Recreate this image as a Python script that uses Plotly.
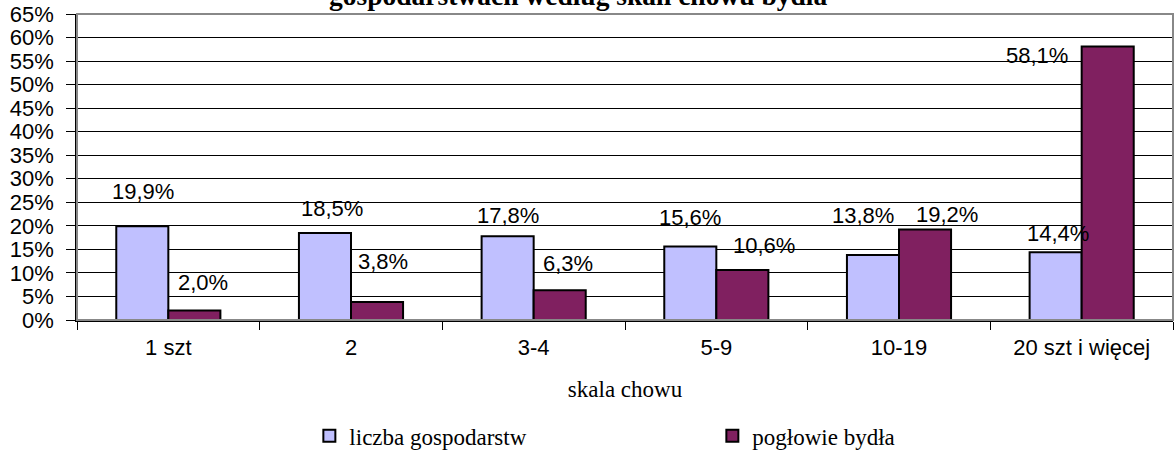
import plotly.graph_objects as go

categories = ["1 szt", "2", "3-4", "5-9", "10-19", "20 szt i więcej"]
liczba_gospodarstw = [19.9, 18.5, 17.8, 15.6, 13.8, 14.4]
poglowie_bydla = [2.0, 3.8, 6.3, 10.6, 19.2, 58.1]
series_names = ["liczba gospodarstw", "pogłowie bydła"]
y_ticks = list(range(0, 70, 5))
y_tick_labels = [f"{t}%" for t in y_ticks]

# label offsets (style, px) mimicking the Excel placement
off1 = [(1, -35), (7, -24), (0, -21), (0, -29), (-10, -40), (2, -19)]
off2 = [(9, -28), (6, -41), (8, -27), (22, -25), (22, -15), (-71, 9)]

c1 = "#C0C0FF"
c2 = "#802060"
fig = go.Figure()
fig.add_bar(x=categories, y=liczba_gospodarstw, name=series_names[0],
            marker=dict(color=c1, line=dict(color="black", width=2)), offsetgroup="a")
fig.add_bar(x=categories, y=poglowie_bydla, name=series_names[1],
            marker=dict(color=c2, line=dict(color="black", width=2)), offsetgroup="b")

def fmt(v):
    return f"{v:.1f}%".replace(".", ",")

bw = 0.285
for i, c in enumerate(categories):
    for vals, offs, sh in ((liczba_gospodarstw, off1, -bw / 2), (poglowie_bydla, off2, bw / 2)):
        fig.add_annotation(x=i + sh, y=vals[i], xref="x", yref="y", text=fmt(vals[i]),
                           showarrow=False, xanchor="center", yanchor="middle",
                           xshift=offs[i][0], yshift=-offs[i][1],
                           font=dict(family="Arial, Liberation Sans", size=22, color="black"))

fig.add_annotation(x=0.457, y=1.0, xref="paper", yref="paper", yanchor="bottom",
                   yshift=1,
                   text="<b>gospodarstwach według skali chowu bydła</b>", showarrow=False,
                   font=dict(family="Times New Roman, Liberation Serif", size=27.5, color="black"))

fig.add_shape(type="rect", xref="paper", yref="paper", x0=0, x1=1, y0=0, y1=1,
              line=dict(color="#888888", width=2), layer="above")

fig.update_layout(
    width=1176, height=454,
    margin=dict(l=77, r=3, t=14, b=134, autoexpand=False),
    paper_bgcolor="white", plot_bgcolor="white",
    barmode="group", bargap=0.43, bargroupgap=0,
    showlegend=True,
    legend=dict(orientation="h", x=0.212, xanchor="left", y=-0.308, yanchor="top",
                entrywidth=358, entrywidthmode="pixels",
                font=dict(family="Times New Roman, Liberation Serif", size=23, color="black")),
    xaxis=dict(type="category", showline=True, linecolor="black", linewidth=1.5,
               ticks="outside", ticklen=8, tickcolor="black", tickson="boundaries",
               ticklabelstandoff=7,
               tickfont=dict(family="Arial, Liberation Sans", size=22, color="black"),
               title=dict(text="skala chowu", standoff=22,
                          font=dict(family="Times New Roman, Liberation Serif", size=23, color="black"))),
    yaxis=dict(range=[0, 65], tickmode="array", tickvals=y_ticks, ticktext=y_tick_labels,
               showline=True, linecolor="black",
               linewidth=1.5, ticks="outside", ticklen=9, tickcolor="black",
               showgrid=True, gridcolor="black", gridwidth=1, zeroline=False,
               ticklabelstandoff=8,
               tickfont=dict(family="Arial, Liberation Sans", size=22, color="black")),
)

fig.write_html("out.html", config={"displayModeBar": False},
               post_script="document.body.style.margin='0';document.body.style.overflow='hidden';")
